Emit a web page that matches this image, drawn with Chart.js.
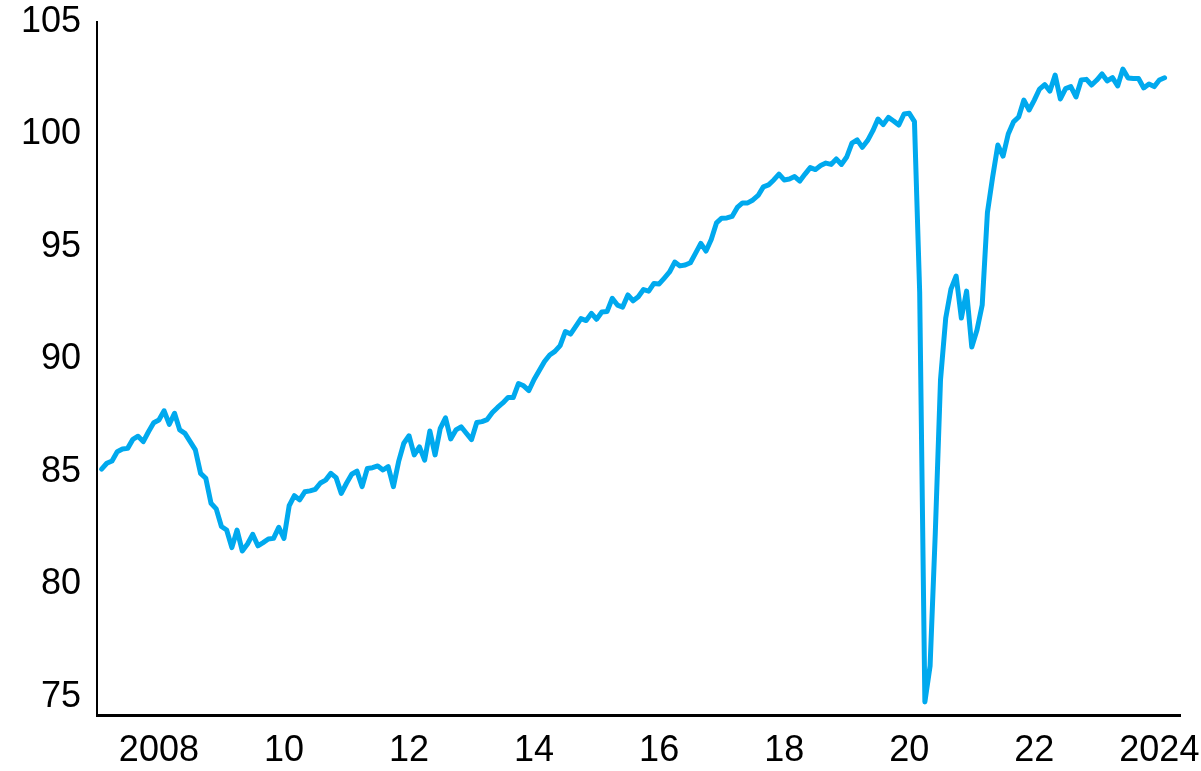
<!DOCTYPE html>
<html>
<head>
<meta charset="utf-8">
<script src="https://cdn.jsdelivr.net/npm/chart.js@4"></script>
<style>
  html, body { margin: 0; padding: 0; background: #ffffff; }
  #wrap { width: 1201px; height: 771px; position: relative; }
</style>
</head>
<body>
<div id="wrap"><canvas id="chart"></canvas></div>
<script>
// Monthly index, first observation February 2007, last February 2024
const firstYear = 2007;
const firstMonth = 2;
const indexValues = [
  85.13, 85.39, 85.49, 85.90, 86.02, 86.05, 86.45, 86.59, 86.35, 86.79, 87.19, 87.31,
  87.72, 87.12, 87.61, 86.87, 86.72, 86.35, 85.98, 84.94, 84.72, 83.61, 83.36, 82.58,
  82.42, 81.64, 82.42, 81.49, 81.80, 82.23, 81.72, 81.86, 82.02, 82.05, 82.54, 82.05,
  83.50, 83.95, 83.76, 84.12, 84.16, 84.23, 84.51, 84.64, 84.94, 84.75, 84.05, 84.50,
  84.90, 85.04, 84.35, 85.16, 85.19, 85.27, 85.09, 85.24, 84.35, 85.46, 86.28, 86.61,
  85.76, 86.12, 85.53, 86.82, 85.76, 86.94, 87.41, 86.47, 86.87, 87.01, 86.72, 86.44,
  87.20, 87.24, 87.33, 87.64, 87.87, 88.07, 88.31, 88.31, 88.93, 88.83, 88.62, 89.11,
  89.51, 89.91, 90.20, 90.36, 90.62, 91.24, 91.13, 91.47, 91.82, 91.73, 92.05, 91.79,
  92.11, 92.13, 92.72, 92.42, 92.33, 92.87, 92.61, 92.79, 93.11, 93.04, 93.38, 93.36,
  93.62, 93.89, 94.33, 94.16, 94.20, 94.30, 94.73, 95.16, 94.82, 95.33, 96.07, 96.28,
  96.29, 96.36, 96.76, 96.96, 96.96, 97.09, 97.29, 97.67, 97.76, 97.98, 98.24, 97.98,
  98.02, 98.13, 97.93, 98.24, 98.53, 98.44, 98.62, 98.73, 98.67, 98.91, 98.67, 99.00,
  99.62, 99.76, 99.43, 99.73, 100.16, 100.69, 100.44, 100.76, 100.60, 100.42, 100.91, 100.94,
  100.57, 93.00, 74.78, 76.38, 82.30, 89.10, 91.84, 93.13, 93.71, 91.84, 93.04, 90.56,
  91.31, 92.42, 96.53, 98.11, 99.53, 99.04, 100.02, 100.56, 100.78, 101.53, 101.09, 101.53,
  102.02, 102.22, 101.93, 102.64, 101.58, 102.04, 102.13, 101.67, 102.42, 102.45, 102.20, 102.42,
  102.69, 102.38, 102.53, 102.16, 102.91, 102.51, 102.49, 102.49, 102.07, 102.24, 102.13, 102.42,
  102.52
];

const tickYears  = [2008, 2010, 2012, 2014, 2016, 2018, 2020, 2022, 2024];
const tickLabels = ['2008', '10', '12', '14', '16', '18', '20', '22', '2024'];
const yTicks = [75, 80, 85, 90, 95, 100, 105];

// Place each month on a fractional-year axis
const series = indexValues.map((v, i) => ({
  x: firstYear + (firstMonth - 1 + i) / 12,
  y: v
}));

const labelFont = { family: 'Liberation Sans, Arial, sans-serif', size: 36 };

// Keep outer tick labels from shrinking the plot area
function noOverhang(scale) {
  scale.paddingLeft = 0;
  scale.paddingRight = 0;
  scale.paddingTop = 0;
  scale.paddingBottom = 0;
}

new Chart(document.getElementById('chart'), {
  type: 'line',
  data: {
    datasets: [{
      data: series,
      borderColor: '#00A9EE',
      borderWidth: 5,
      pointRadius: 0,
      tension: 0,
      borderCapStyle: 'round',
      borderJoinStyle: 'round',
      fill: false
    }]
  },
  options: {
    responsive: true,
    maintainAspectRatio: false,
    animation: false,
    devicePixelRatio: 1,
    layout: { padding: { top: 22, right: 21, left: 0, bottom: 0 } },
    plugins: { legend: { display: false }, tooltip: { enabled: false } },
    scales: {
      x: {
        type: 'linear',
        min: 2007.01,
        max: 2024.33,
        afterBuildTicks: (scale) => { scale.ticks = tickYears.map(v => ({ value: v })); },
        afterFit: (scale) => { scale.height = 56; noOverhang(scale); },
        grid: { display: false, drawTicks: false },
        border: { display: true, color: '#000000', width: 3 },
        ticks: {
          autoSkip: false,
          maxRotation: 0,
          padding: 14,
          color: '#000000',
          font: labelFont,
          callback: (v) => tickLabels[tickYears.indexOf(v)]
        }
      },
      y: {
        min: 74.2,
        max: 105,
        afterBuildTicks: (scale) => { scale.ticks = yTicks.map(v => ({ value: v })); },
        afterFit: (scale) => { scale.width = 97; noOverhang(scale); },
        grid: { display: false, drawTicks: false },
        border: { display: true, color: '#000000', width: 2 },
        ticks: {
          padding: 16,
          color: '#000000',
          font: labelFont,
          callback: (v) => String(v)
        }
      }
    }
  }
});
</script>
</body>
</html>
